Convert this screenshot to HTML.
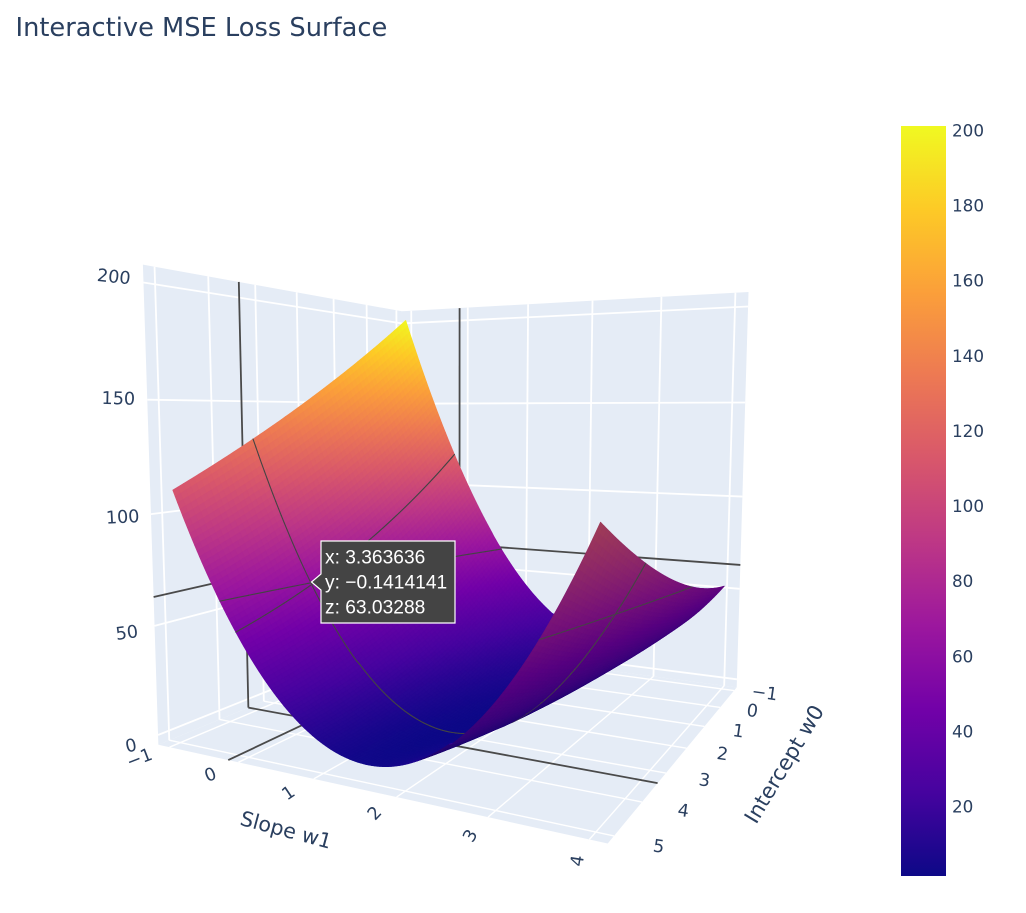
<!DOCTYPE html>
<html lang="en">
<head>
<meta charset="utf-8">
<title>Interactive MSE Loss Surface</title>
<style>
html,body{margin:0;padding:0;background:#fff;}
body{width:1026px;height:913px;overflow:hidden;}
svg{display:block;}
text{font-family:"DejaVu Sans","Liberation Sans",sans-serif;fill:#2a3f5f;}
.hv{font-family:"Liberation Sans",sans-serif;fill:#fff;font-size:19.2px;}
</style>
</head>
<body>
<svg id="chart" width="1026" height="913" viewBox="0 0 1026 913" xmlns="http://www.w3.org/2000/svg">
  <defs><linearGradient id="cbGrad" x1="0" y1="1" x2="0" y2="0"></linearGradient></defs>
  <text x="15.5" y="36" font-size="25.7">Interactive MSE Loss Surface</text>
  <g id="walls"></g>
  <g id="grid"></g>
  <g id="spikes"></g>
  <g id="surface"></g>
  <g id="ticks"></g>
  <text font-size="20.6" text-anchor="middle" dominant-baseline="central" transform="translate(286 830) rotate(15)">Slope w1</text>
  <text font-size="21.2" text-anchor="middle" dominant-baseline="central" transform="translate(784 764) rotate(-59)">Intercept w0</text>
  <g id="colorbar">
    <rect x="901" y="126" width="45" height="750" fill="url(#cbGrad)"></rect>
  </g>
  <g>
    <path d="M321 541H455V623H321V590L311.5 582L321 574Z" fill="#444" stroke="#fff" stroke-width="1.2"></path>
    <text class="hv" x="325" y="563.5">x: 3.363636</text>
    <text class="hv" x="325" y="588.5">y: −0.1414141</text>
    <text class="hv" x="325" y="613.5">z: 63.03288</text>
  </g>
</svg>
<script>
// ---- chart data ----
const w0Values = [-1, 0, 1, 2, 3, 4, 5];
const w1Values = [-1, 0, 1, 2, 3, 4];
// loss z: one row per w0 value, one column per w1 value
const zRowW0m1 = [201.0, 107.8, 45.8, 16.9, 18.0, 52.0];
const zRowW00  = [183.4,  92.0, 34.6, 10.2, 16.8, 56.2];
const zRowW01  = [166.8,  78.2, 25.3,  5.5, 17.6, 62.3];
const zRowW02  = [151.2,  66.3, 18.0,  2.7, 20.0, 70.5];
const zRowW03  = [136.6,  56.5, 12.8,  2.0, 24.2, 80.7];
const zRowW04  = [123.0,  48.6,  9.4,  3.2, 30.0, 92.9];
const zRowW05  = [110.4,  42.7,  8.1,  6.4, 37.8, 107.0];
const zGrid = [zRowW0m1, zRowW00, zRowW01, zRowW02, zRowW03, zRowW04, zRowW05];
const w0Ticks = [-1, 0, 1, 2, 3, 4, 5];
const w1Ticks = [-1, 0, 1, 2, 3, 4];
const zTicks = [0, 50, 100, 150, 200];
const colorbarTicks = [20, 40, 60, 80, 100, 120, 140, 160, 180, 200];
const hoverPoint = [3.363636, -0.1414141, 63.03288];
const plasmaStops = ['#0d0887','#46039f','#7201a8','#9c179e','#bd3786','#d8576b','#ed7953','#fb9f3a','#fdca26','#f0f921'];
const colorLimits = [1.5, 201.2];
const w0Range = [-1.2, 5.2];
const w1Range = [-1.17, 4.17];
const zRange = [-4.5, 207.5];

// ---- camera: projective fit to the scene box corners ----
const cameraCorners = [
  [0,0,0,403,644],[0,0,1,403,311],[0,1,0,159,744],[0,1,1,142,265],
  [1,0,0,737,687],[1,0,1,748,292],[1,1,0,608,844]
];
function solveCamera(){
  const A=[],b=[];
  cameraCorners.forEach(c=>{
    const u=c[0],v=c[1],w=c[2],x=c[3]/1000,y=c[4]/1000;
    A.push([u,v,w,1,0,0,0,0,-x*u,-x*v,-x*w]); b.push(x);
    A.push([0,0,0,0,u,v,w,1,-y*u,-y*v,-y*w]); b.push(y);
  });
  const n=11,M=[];
  for(let i=0;i<n;i++){
    M.push(new Array(n+1).fill(0));
    for(let j=0;j<n;j++) for(let k=0;k<A.length;k++) M[i][j]+=A[k][i]*A[k][j];
    for(let k=0;k<A.length;k++) M[i][n]+=A[k][i]*b[k];
  }
  for(let i=0;i<n;i++){
    let p=i;
    for(let r=i+1;r<n;r++) if(Math.abs(M[r][i])>Math.abs(M[p][i])) p=r;
    const t=M[i];M[i]=M[p];M[p]=t;
    for(let r=0;r<n;r++){
      if(r===i) continue;
      const f=M[r][i]/M[i][i];
      for(let c=i;c<=n;c++) M[r][c]-=f*M[i][c];
    }
  }
  return M.map((r,i)=>r[n]/r[i]);
}
const cam = solveCamera();
function projectBox(u,v,w){
  const W=cam[8]*u+cam[9]*v+cam[10]*w+1;
  return {x:1000*(cam[0]*u+cam[1]*v+cam[2]*w+cam[3])/W, y:1000*(cam[4]*u+cam[5]*v+cam[6]*w+cam[7])/W, W:W};
}
// axis functions
const axisU = w1 => (w1-w1Range[0])/(w1Range[1]-w1Range[0]);
const axisV = w0 => (w0-w0Range[0])/(w0Range[1]-w0Range[0]);
const axisW = z => (z-zRange[0])/(zRange[1]-zRange[0]);
const project = (w1,w0,z) => projectBox(axisU(w1),axisV(w0),axisW(z));

// ---- helpers ----
const NS='http://www.w3.org/2000/svg';
function make(tag,parent,attrs){
  const el=document.createElementNS(NS,tag);
  for(const k in attrs) el.setAttribute(k,attrs[k]);
  parent.appendChild(el);
  return el;
}
const pts = arr => arr.map(p=>p.x.toFixed(2)+','+p.y.toFixed(2)).join(' ');
function hexRgb(h){return [parseInt(h.slice(1,3),16),parseInt(h.slice(3,5),16),parseInt(h.slice(5,7),16)];}
function colorAt(z,shade){
  let t=(z-colorLimits[0])/(colorLimits[1]-colorLimits[0]);
  t=Math.max(0,Math.min(1,t))*(plasmaStops.length-1);
  const i=Math.min(plasmaStops.length-2,Math.floor(t)),f=t-i;
  const a=hexRgb(plasmaStops[i]),b=hexRgb(plasmaStops[i+1]);
  return 'rgb('+[0,1,2].map(k=>Math.round((a[k]+(b[k]-a[k])*f)*shade)).join(',')+')';
}
function lagrange(xs,i,x){
  const a=xs[i-1],b=xs[i],c=xs[i+1];
  return [(x-b)*(x-c)/((a-b)*(a-c)),(x-a)*(x-c)/((b-a)*(b-c)),(x-a)*(x-b)/((c-a)*(c-b))];
}
function nearest(xs,x){
  let best=1,d=1e9;
  for(let i=1;i<xs.length-1;i++){const e=Math.abs(xs[i]-x);if(e<d){d=e;best=i;}}
  return best;
}
// smooth reading of zGrid between grid nodes
function zAt(w0,w1){
  const i=nearest(w0Values,w0),j=nearest(w1Values,w1);
  const L=lagrange(w0Values,i,w0),M=lagrange(w1Values,j,w1);
  let s=0;
  for(let a=0;a<3;a++) for(let b=0;b<3;b++) s+=L[a]*M[b]*zGrid[i-1+a][j-1+b];
  return s;
}
function tickText(t){return t<0?'\u2212'+Math.abs(t):String(t);}

// ---- walls ----
const wallsG=document.getElementById('walls');
const wallFill='#e5ecf6';
const leftWall=make('polygon',wallsG,{points:pts([projectBox(0,0,0),projectBox(0,1,0),projectBox(0,1,1),projectBox(0,0,1)]),fill:wallFill});


const rightWall=make('polygon',wallsG,{points:pts([projectBox(0,0,0),projectBox(1,0,0),projectBox(1,0,1),projectBox(0,0,1)]),fill:wallFill});


const floorWall=make('polygon',wallsG,{points:pts([projectBox(0,0,0),projectBox(1,0,0),projectBox(1,1,0),projectBox(0,1,0)]),fill:wallFill});



// ---- gridlines ----
const gridG=document.getElementById('grid');
function seg(parent,a,b,color,width){
  return make('line',parent,{x1:a.x.toFixed(2),y1:a.y.toFixed(2),x2:b.x.toFixed(2),y2:b.y.toFixed(2),stroke:color,'stroke-width':width});
}
w0Ticks.forEach(t=>{
  const v=axisV(t);
  const g1=seg(gridG,projectBox(0,v,0),projectBox(0,v,1),'#fff',1.8);
  
  
  const g2=seg(gridG,projectBox(0,v,0),projectBox(1,v,0),'#fff',1.4);
  
  
});
w1Ticks.forEach(t=>{
  const u=axisU(t);
  const g1=seg(gridG,projectBox(u,0,0),projectBox(u,0,1),'#fff',1.8);
  
  
  const g2=seg(gridG,projectBox(u,0,0),projectBox(u,1,0),'#fff',1.4);
  
  
});
zTicks.forEach(t=>{
  const w=axisW(t);
  const g1=seg(gridG,projectBox(0,0,w),projectBox(0,1,w),'#fff',1.8);
  
  
  const g2=seg(gridG,projectBox(0,0,w),projectBox(1,0,w),'#fff',1.8);
  
  
});

// ---- hover spikes on the walls ----
const spikesG=document.getElementById('spikes');
const hu=axisU(hoverPoint[1]),hv=axisV(hoverPoint[0]),hw=axisW(hoverPoint[2]);
const spikeColor='#4a4a4a';
const s1=seg(spikesG,projectBox(0,hv,0),projectBox(0,hv,1),spikeColor,1.8);


const s2=seg(spikesG,projectBox(0,0,hw),projectBox(0,1,hw),spikeColor,1.8);


const s3=seg(spikesG,projectBox(hu,0,0),projectBox(hu,0,1),spikeColor,1.8);


const s4=seg(spikesG,projectBox(0,0,hw),projectBox(1,0,hw),spikeColor,1.8);


const s5=seg(spikesG,projectBox(0,hv,0),projectBox(1,hv,0),spikeColor,1.8);


const s6=seg(spikesG,projectBox(hu,0,0),projectBox(hu,1,0),spikeColor,1.8);



// ---- surface (painter's algorithm, far to near) ----
const surfaceG=document.getElementById('surface');
const subdivW0=10,subdivW1=30;
const w0Min=w0Values[0],w0Max=w0Values[w0Values.length-1];
const w1Min=w1Values[0],w1Max=w1Values[w1Values.length-1];
const nA=(w0Values.length-1)*subdivW0,nB=(w1Values.length-1)*subdivW1;
const nodes=[];
for(let i=0;i<=nA;i++){
  nodes.push([]);
  for(let j=0;j<=nB;j++){
    const a=w0Min+(w0Max-w0Min)*i/nA,b=w1Min+(w1Max-w1Min)*j/nB,z=zAt(a,b);
    const p=project(b,a,z);
    p.z=z;
    nodes[i].push(p);
  }
}
function area(q){
  let s=0;
  for(let i=0;i<q.length;i++){const a=q[i],b=q[(i+1)%q.length];s+=a.x*b.y-b.x*a.y;}
  return s;
}
// orientation of the scene floor seen from above, in the same (w0,w1) winding
const topSign=Math.sign(area([project(w1Min,w0Min,0),project(w1Min,w0Max,0),project(w1Max,w0Max,0),project(w1Max,w0Min,0)]));
const items=[];
function levelCrossings(q,level){
  const out=[];
  for(let e=0;e<4;e++){
    const a=q[e],b=q[(e+1)%4];
    if((a.z-level)*(b.z-level)<0){
      const t=(level-a.z)/(b.z-a.z);
      out.push({x:a.x+(b.x-a.x)*t,y:a.y+(b.y-a.y)*t,W:a.W+(b.W-a.W)*t});
    }
  }
  return out;
}
for(let i=0;i<nA;i++){
  for(let j=0;j<nB;j++){
    const q=[nodes[i][j],nodes[i+1][j],nodes[i+1][j+1],nodes[i][j+1]];
    const depth=(q[0].W+q[1].W+q[2].W+q[3].W)/4;
    const z=(q[0].z+q[1].z+q[2].z+q[3].z)/4;
    items.push({kind:'cell',q:q,depth:depth,z:z});
    // highlighted z contour at the hover level
    const cross=levelCrossings(q,hoverPoint[2]);
    if(cross.length===2) items.push({kind:'contour-highlight-z',a:cross[0],b:cross[1],depth:depth-0.004});
  }
}
// highlighted contour curves through the hover point
const curveSteps=120;
for(let k=0;k<curveSteps;k++){
  const b1=w1Min+(w1Max-w1Min)*k/curveSteps,b2=w1Min+(w1Max-w1Min)*(k+1)/curveSteps;
  const pa=project(b1,hoverPoint[0],zAt(hoverPoint[0],b1)),pb=project(b2,hoverPoint[0],zAt(hoverPoint[0],b2));
  items.push({kind:'contour-highlight-w0',a:pa,b:pb,depth:(pa.W+pb.W)/2-0.004});
  const a1=w0Min+(w0Max-w0Min)*k/curveSteps,a2=w0Min+(w0Max-w0Min)*(k+1)/curveSteps;
  const pc=project(hoverPoint[1],a1,zAt(a1,hoverPoint[1])),pd=project(hoverPoint[1],a2,zAt(a2,hoverPoint[1]));
  items.push({kind:'contour-highlight-w1',a:pc,b:pd,depth:(pc.W+pd.W)/2-0.004});
}
items.sort((p,q)=>q.depth-p.depth);
items.forEach(it=>{
  if(it.kind==='cell'){
    const top=Math.sign(area(it.q))===topSign;
    const col=colorAt(it.z,top?1:0.76);
    const cell=make('polygon',surfaceG,{points:pts(it.q),fill:col,stroke:col,'stroke-width':0.7,'stroke-linejoin':'round'});
    
    
  }else{
    const c=seg(surfaceG,it.a,it.b,'#444',1.1);
    c.setAttribute('stroke-linecap','round');
    
    
  }
});

// ---- tick labels ----
const ticksG=document.getElementById('ticks');
function tickLabel(parent,p,dx,dy,rot,str){
  const el=make('text',parent,{'font-size':17.6,'text-anchor':'middle','dominant-baseline':'central',transform:'translate('+(p.x+dx).toFixed(1)+' '+(p.y+dy).toFixed(1)+') rotate('+rot.toFixed(1)+')'});
  el.textContent=str;
  return el;
}
w1Ticks.forEach(t=>{
  const rot=-21-13*Math.max(0,t)-(t>3?8:0);
  const el=tickLabel(ticksG,projectBox(axisU(t),1.125,axisW(0)),17,2.5,rot,tickText(t));
  
  
});
w0Ticks.forEach(t=>{
  const el=tickLabel(ticksG,projectBox(1.1,axisV(t),axisW(0)),-10.5-0.7*(t+1),6+0.85*(t+1),8,tickText(t));
  
  
});
zTicks.forEach(t=>{
  const el=tickLabel(ticksG,projectBox(0,1.11,axisW(t)),14,-5+0.035*t,-12+0.09*t,tickText(t));
  
  
});

// ---- colorbar ----
const grad=document.getElementById('cbGrad');
plasmaStops.forEach((c,i)=>{
  const st=make('stop',grad,{offset:(i/(plasmaStops.length-1)).toFixed(4),'stop-color':c});
  
  
});
const cbG=document.getElementById('colorbar');
const cbY=z=>876-(z-colorLimits[0])/(colorLimits[1]-colorLimits[0])*750;
colorbarTicks.forEach(t=>{
  const el=make('text',cbG,{x:952,y:cbY(t).toFixed(1),'font-size':16.8,'dominant-baseline':'central'});
  el.textContent=String(t);
  
  
});
</script>
</body>
</html>
